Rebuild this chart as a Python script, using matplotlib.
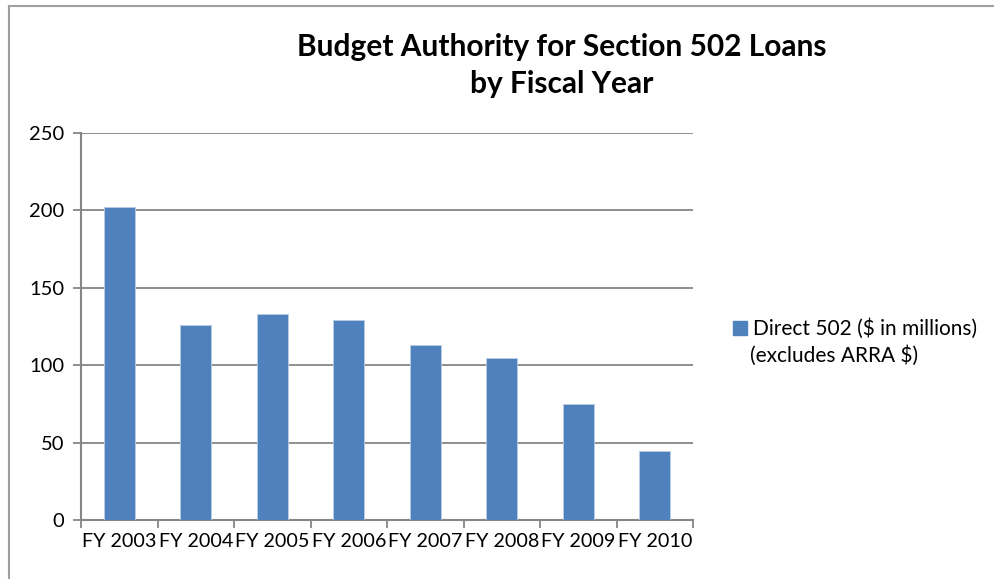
import matplotlib.pyplot as plt
from matplotlib.lines import Line2D
from matplotlib.patches import Patch

# data
years = ['FY 2003', 'FY 2004', 'FY 2005', 'FY 2006', 'FY 2007', 'FY 2008', 'FY 2009', 'FY 2010']
direct_502 = [202, 126, 133, 129, 113, 105, 75, 45]
y_ticks = [0, 50, 100, 150, 200, 250]

plt.rcParams['font.family'] = ['Lato', 'DejaVu Sans']

W, H = 995, 579
fig = plt.figure(figsize=(W / 100, H / 100), dpi=100)
ax = fig.add_axes([81 / W, 1 - 520.3 / H, (693 - 81) / W, (520.3 - 132.7) / H])

grey = '#868686'
bar_col = '#4f81bd'

x = range(len(years))
ax.bar(x, direct_502, width=0.4, color=bar_col, edgecolor='#b9cde5', linewidth=0.6, zorder=3)

ax.set_xlim(-0.5, len(years) - 0.5)
ax.set_ylim(0, 250)
ax.set_yticks(y_ticks)
ax.set_yticklabels([str(v) for v in y_ticks], fontsize=14.5)
ax.yaxis.grid(True, color=grey, linewidth=1.3, zorder=0)

# category labels at centres, tick marks at boundaries
ax.set_xticks(list(x))
ax.set_xticklabels(years, fontsize=14.2)
ax.tick_params(axis='x', which='major', length=0, pad=9)
ax.set_xticks([i - 0.5 for i in range(len(years) + 1)], minor=True)
ax.tick_params(axis='x', which='minor', length=6, width=1.3, color=grey, direction='out')
ax.tick_params(axis='y', length=6, width=1.3, color=grey, direction='out', pad=6)

for s in ['top', 'right']:
    ax.spines[s].set_visible(False)
for s in ['left', 'bottom']:
    ax.spines[s].set_color(grey)
    ax.spines[s].set_linewidth(1.5)

fig.text(562 / W, 1 - 47 / H, 'Budget Authority for Section 502 Loans', ha='center', va='center',
         fontsize=21.5, fontweight='bold')
fig.text(562 / W, 1 - 84.5 / H, 'by Fiscal Year', ha='center', va='center',
         fontsize=21.5, fontweight='bold')

handle = Patch(facecolor=bar_col, edgecolor=bar_col)
fig.legend([handle], ['Direct 502 ($ in millions)'], loc='center left',
           bbox_to_anchor=(723 / W, 1 - 329 / H), frameon=False, fontsize=15,
           handlelength=0.65, handleheight=0.65, handletextpad=0.3, borderpad=0)
fig.text(750 / W, 1 - 356 / H, '(excludes ARRA $)', ha='left', va='center', fontsize=15)

# chart-area frame (only top and left visible)
fig.add_artist(Line2D([8.5 / W, 1], [1 - 5.5 / H, 1 - 5.5 / H], color='#a0a0a0', linewidth=1.5,
                      transform=fig.transFigure))
fig.add_artist(Line2D([8.5 / W, 8.5 / W], [0, 1 - 5.5 / H], color='#a0a0a0', linewidth=1.5,
                      transform=fig.transFigure))

fig.savefig('out.png', dpi=100)
